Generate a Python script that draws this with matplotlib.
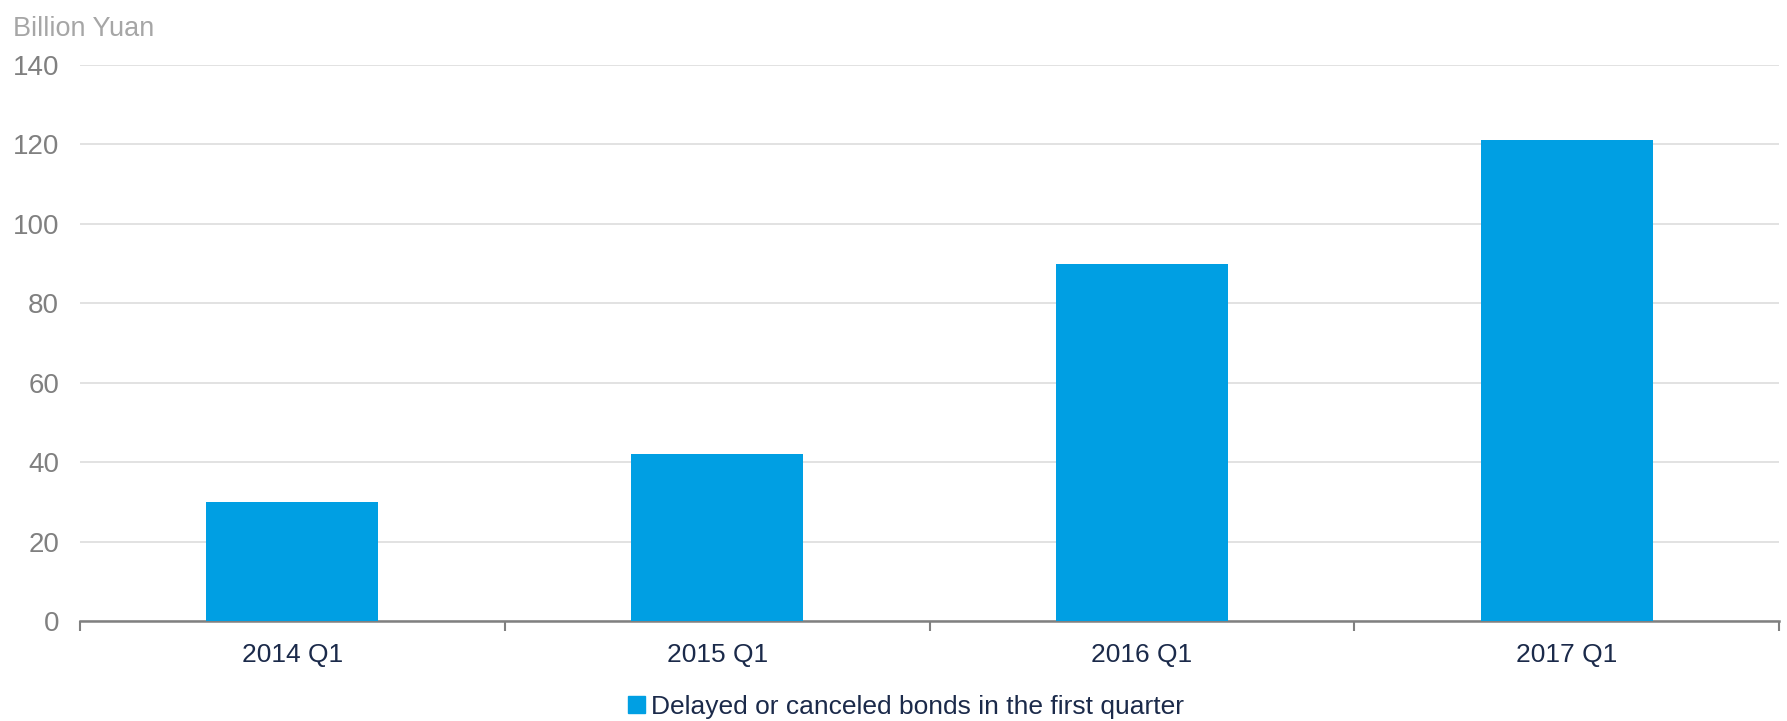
import numpy as np
import matplotlib.pyplot as plt
from matplotlib.patches import Patch

categories = ['2014 Q1', '2015 Q1', '2016 Q1', '2017 Q1']
values = [30, 42, 90, 121]
series_name = 'Delayed or canceled bonds in the first quarter'
yticks = [0, 20, 40, 60, 80, 100, 120, 140]

plt.rcParams['font.family'] = ['Liberation Sans', 'DejaVu Sans']

bar_col = '#009FE3'
navy = '#1B2A4A'
grey = '#808080'

fig = plt.figure(figsize=(17.87, 7.21), dpi=100)
ax = fig.add_axes([0.0448, 0.1387, 0.9507, 0.7711])

x = np.arange(len(categories))
ax.bar(x, values, width=0.405, color=bar_col, zorder=3)

ax.set_xlim(-0.5, len(categories) - 0.5)
ax.set_ylim(0, 140)
ax.set_yticks(yticks)
ax.set_yticklabels([str(t) for t in yticks], color=grey, fontsize=20)
ax.yaxis.grid(True, color='#DDDDDD', linewidth=1.2, zorder=0)
ax.tick_params(axis='y', length=0, pad=15)

ax.set_xticks(x)
ax.set_xticklabels(categories, color=navy, fontsize=19)
ax.tick_params(axis='x', which='major', length=0, pad=16)
ax.set_xticks(np.arange(-0.5, len(categories)), minor=True)
ax.tick_params(axis='x', which='minor', length=7, width=1.5, color=grey, direction='out')

for s in ['top', 'right', 'left']:
    ax.spines[s].set_visible(False)
ax.spines['bottom'].set_color(grey)
ax.spines['bottom'].set_linewidth(1.8)

fig.text(0.007, 0.978, 'Billion Yuan', color='#A6A6A6', fontsize=19.5, va='top', ha='left')

fig.legend(handles=[Patch(color=bar_col, label=series_name)], loc='center',
           bbox_to_anchor=(0.507, 0.02), frameon=False, fontsize=19,
           handlelength=0.65, handleheight=0.65, handletextpad=0.2, labelcolor=navy)

fig.savefig('out.png', dpi=100)
